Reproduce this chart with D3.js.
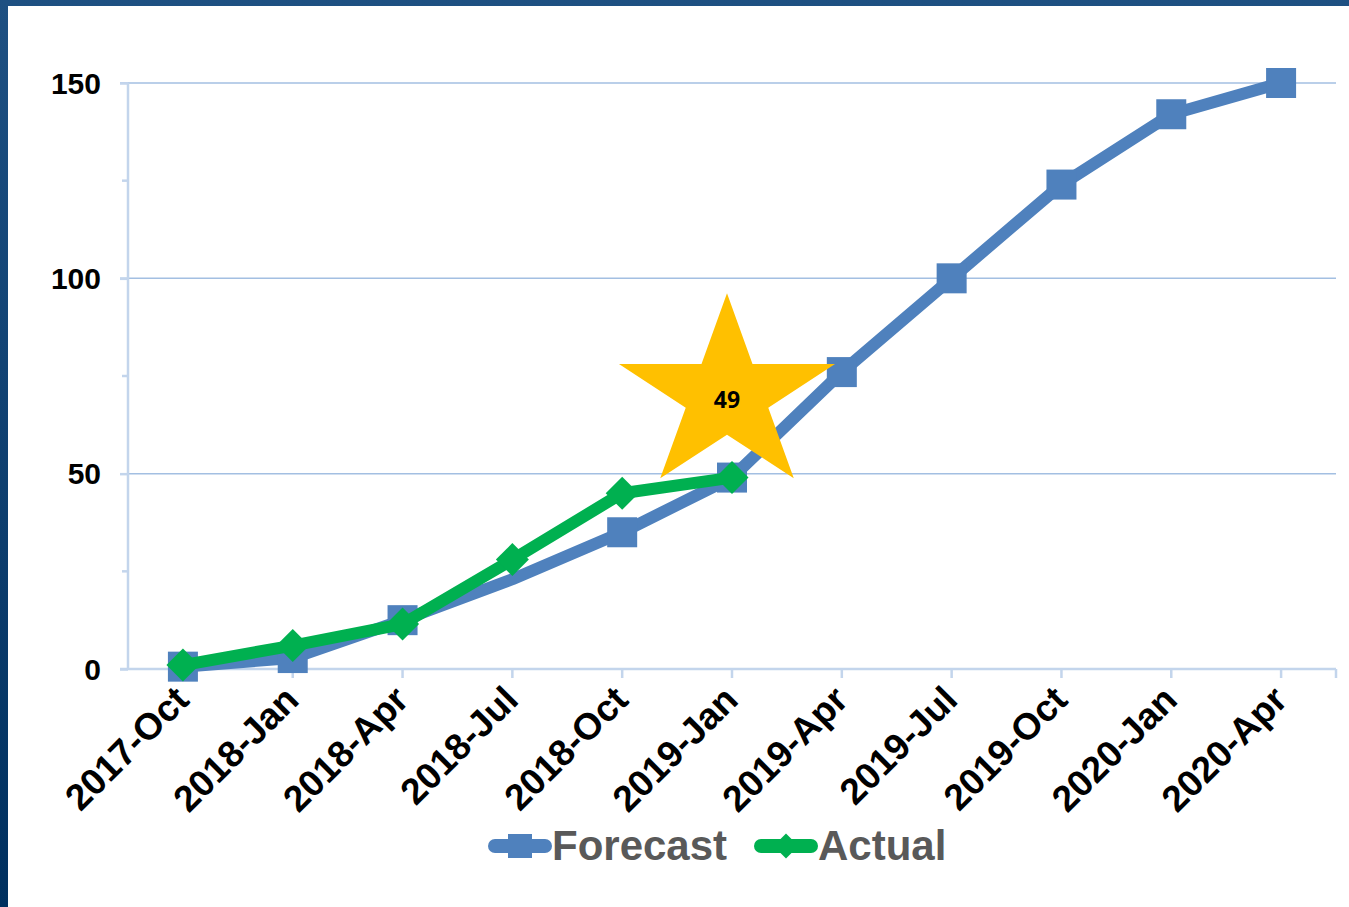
<!DOCTYPE html>
<html>
<head>
<meta charset="utf-8">
<script src="https://cdn.jsdelivr.net/npm/d3@7"></script>
<style>
  body { margin: 0; background: #fff; }
  svg { display: block; }
</style>
</head>
<body>
<svg width="1349" height="907"></svg>
<script>
const categories = ['2017-Oct', '2018-Jan', '2018-Apr', '2018-Jul', '2018-Oct', '2019-Jan',
  '2019-Apr', '2019-Jul', '2019-Oct', '2020-Jan', '2020-Apr']
const forecast = [0.6, 2.8, 12.5, 23, 35, 49, 76, 100, 124, 142, 150]
// 2018-Jul forecast point has no marker in the original
const forecastMarker = [true, true, true, false, true, true, true, true, true, true, true]
const actual = [1, 6, 11.5, 28, 45, 49]
const yTicks = [0, 50, 100, 150]
const yMinorTicks = [25, 75, 125]
const starLabel = '49'

const svg = d3.select('svg')
const width = +svg.attr('width')
const height = +svg.attr('height')

// slide background strip + white panel
const defs = svg.append('defs')
const grad = defs.append('linearGradient').attr('id', 'bg')
  .attr('x1', 0).attr('y1', 0).attr('x2', 0).attr('y2', 1)
grad.append('stop').attr('offset', '0%').attr('stop-color', '#1e5082')
grad.append('stop').attr('offset', '100%').attr('stop-color', '#00305f')
svg.append('rect').attr('width', width).attr('height', height).attr('fill', 'url(#bg)')
svg.append('rect').attr('x', 8).attr('y', 6).attr('width', width - 8).attr('height', height - 6)
  .attr('fill', '#fff')

const plotLeft = 128
const plotRight = 1336
const plotTop = 83
const plotBottom = 669

const xScale = d3.scaleBand()
  .domain(categories)
  .range([plotLeft, plotRight])
  .padding(0)
const xc = d => xScale(d) + xScale.bandwidth() / 2

const yScale = d3.scaleLinear()
  .domain([0, 150])
  .range([plotBottom, plotTop])

const axisColor = '#c3d5ec'
const gridColor = '#a3bfe2'

// gridlines
svg.append('g')
  .selectAll('line')
  .data(yTicks.filter(d => d > 0))
  .join('line')
  .attr('x1', plotLeft - 8).attr('x2', plotRight)
  .attr('y1', d => yScale(d)).attr('y2', d => yScale(d))
  .attr('stroke', gridColor).attr('stroke-width', 1.5)

// y axis
const yAxisG = svg.append('g')
  .attr('transform', `translate(${plotLeft},0)`)
  .call(d3.axisLeft(yScale).tickValues(yTicks).tickSize(8).tickPadding(19))
yAxisG.select('.domain').remove()
yAxisG.append('line').attr('y1', yScale(150)).attr('y2', plotBottom)
  .attr('stroke', axisColor).attr('stroke-width', 2.5)
yAxisG.selectAll('.tick line').attr('stroke', axisColor).attr('stroke-width', 2.5)
yAxisG.selectAll('.tick text')
  .style('font-family', '"Liberation Sans", Arial, sans-serif')
  .style('font-weight', 'bold')
  .style('font-size', '30px')
  .attr('fill', '#000')
  .attr('dy', '0.34em')
yAxisG.selectAll('.minor')
  .data(yMinorTicks)
  .join('line')
  .attr('x1', -6).attr('x2', 0)
  .attr('y1', d => yScale(d)).attr('y2', d => yScale(d))
  .attr('stroke', axisColor).attr('stroke-width', 2.5)

// x axis
const xAxisG = svg.append('g')
  .attr('transform', `translate(0,${plotBottom})`)
  .call(d3.axisBottom(xScale).tickSize(9).tickPadding(6))
xAxisG.select('.domain').remove()
xAxisG.append('line').attr('x1', plotLeft - 8).attr('x2', plotRight)
  .attr('stroke', axisColor).attr('stroke-width', 2.5)
xAxisG.append('line').attr('x1', plotRight).attr('x2', plotRight).attr('y2', 9)
  .attr('stroke', axisColor).attr('stroke-width', 2.5)
xAxisG.selectAll('.tick line').attr('stroke', axisColor).attr('stroke-width', 2.5)
xAxisG.selectAll('.tick text')
  .style('font-family', '"Liberation Sans", Arial, sans-serif')
  .style('font-weight', 'bold')
  .style('font-size', '37px')
  .attr('fill', '#000')
  .attr('text-anchor', 'end')
  .attr('y', 0)
  .attr('dy', 0)
  .attr('transform', 'translate(8,33) rotate(-45)')

const blue = '#4f81bd'
const green = '#00b050'

const line = d3.line()
  .x(d => xc(d.cat))
  .y(d => yScale(d.v))

const fData = forecast.map((v, i) => ({ cat: categories[i], v, m: forecastMarker[i] }))
const aData = actual.map((v, i) => ({ cat: categories[i], v }))

svg.append('path')
  .datum(fData)
  .attr('d', line)
  .attr('fill', 'none')
  .attr('stroke', blue)
  .attr('stroke-width', 12)
  .attr('stroke-linejoin', 'round')

svg.append('g')
  .selectAll('rect')
  .data(fData.filter(d => d.m))
  .join('rect')
  .attr('x', d => xc(d.cat) - 15)
  .attr('y', d => yScale(d.v) - 15)
  .attr('width', 30).attr('height', 30)
  .attr('fill', blue)

svg.append('path')
  .datum(aData)
  .attr('d', line)
  .attr('fill', 'none')
  .attr('stroke', green)
  .attr('stroke-width', 12)
  .attr('stroke-linejoin', 'round')

const diamond = s => `M0,${-s}L${s},0L0,${s}L${-s},0Z`
svg.append('g')
  .selectAll('path')
  .data(aData)
  .join('path')
  .attr('transform', d => `translate(${xc(d.cat)},${yScale(d.v)})`)
  .attr('d', diamond(16.5))
  .attr('fill', green)

// star callout
const sx = xc('2019-Jan') - 5
const sy = yScale(actual[actual.length - 1]) - 82
const R = 113.6
const r = R * 0.382
const starPts = d3.range(10).map(i => {
  const a = -Math.PI / 2 + i * Math.PI / 5
  const rad = i % 2 === 0 ? R : r
  return [Math.cos(a) * rad, Math.sin(a) * rad * 0.9]
})
const star = svg.append('g').attr('transform', `translate(${sx},${sy})`)
star.append('path')
  .attr('d', 'M' + starPts.map(p => p.join(',')).join('L') + 'Z')
  .attr('fill', '#ffc000')
star.append('text')
  .attr('y', 6)
  .attr('text-anchor', 'middle')
  .attr('dominant-baseline', 'middle')
  .style('font-family', '"Open Sans", sans-serif')
  .style('font-weight', 'bold')
  .style('font-size', '23px')
  .text(starLabel)

// legend
const legend = [
  { name: 'Forecast', color: blue, x: 488, marker: 'square' },
  { name: 'Actual', color: green, x: 754, marker: 'diamond' }
]
const lg = svg.append('g').attr('transform', 'translate(0,846)')
const item = lg.selectAll('g').data(legend).join('g')
  .attr('transform', d => `translate(${d.x},0)`)
item.append('line')
  .attr('x1', 7).attr('x2', 57)
  .attr('stroke', d => d.color)
  .attr('stroke-width', 14)
  .attr('stroke-linecap', 'round')
item.filter(d => d.marker === 'square').append('rect')
  .attr('x', 20).attr('y', -12).attr('width', 24).attr('height', 24)
  .attr('fill', d => d.color)
item.filter(d => d.marker === 'diamond').append('path')
  .attr('transform', 'translate(32,0)')
  .attr('d', diamond(12.5))
  .attr('fill', d => d.color)
item.append('text')
  .attr('x', 64)
  .attr('y', 14)
  .style('font-family', '"Liberation Sans", Arial, sans-serif')
  .style('font-weight', 'bold')
  .style('font-size', '42px')
  .attr('fill', '#595959')
  .text(d => d.name)
</script>
</body>
</html>
